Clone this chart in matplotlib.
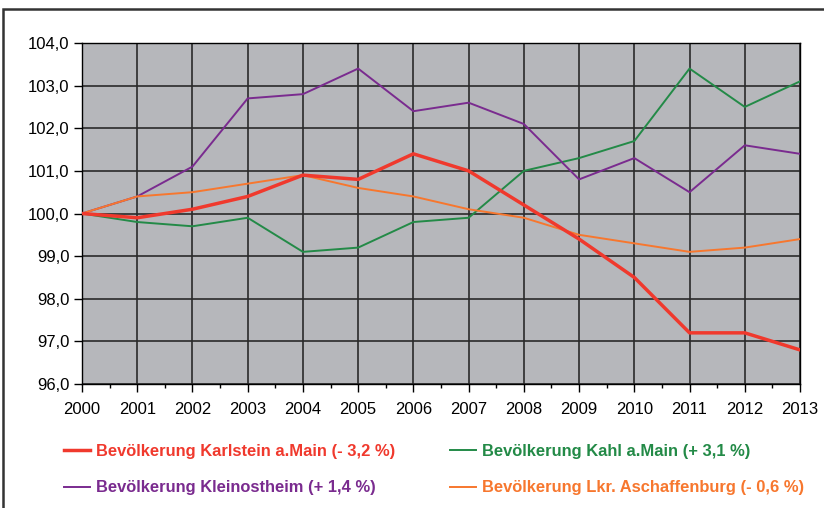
import matplotlib
matplotlib.use("Agg")
import matplotlib.pyplot as plt
from matplotlib.patches import Rectangle
from matplotlib.ticker import MultipleLocator, FuncFormatter

years = list(range(2000, 2014))
karlstein = [100.0, 99.9, 100.1, 100.4, 100.9, 100.8, 101.4, 101.0, 100.2, 99.4, 98.5, 97.2, 97.2, 96.8]
kahl = [100.0, 99.8, 99.7, 99.9, 99.1, 99.2, 99.8, 99.9, 101.0, 101.3, 101.7, 103.4, 102.5, 103.1]
kleinostheim = [100.0, 100.4, 101.1, 102.7, 102.8, 103.4, 102.4, 102.6, 102.1, 100.8, 101.3, 100.5, 101.6, 101.4]
aschaffenburg = [100.0, 100.4, 100.5, 100.7, 100.9, 100.6, 100.4, 100.1, 99.9, 99.5, 99.3, 99.1, 99.2, 99.4]

labels = ["Bevölkerung Karlstein a.Main (- 3,2 %)",
          "Bevölkerung Kahl a.Main (+ 3,1 %)",
          "Bevölkerung Kleinostheim (+ 1,4 %)",
          "Bevölkerung Lkr. Aschaffenburg (- 0,6 %)"]

plt.rcParams['font.family'] = ['Liberation Sans', 'DejaVu Sans']

fig = plt.figure(figsize=(8.24, 5.08), dpi=100)
W, H = 824, 508
ax = fig.add_axes([82 / W, 1 - 384 / H, (800 - 82) / W, (384 - 43) / H])
ax.set_facecolor('#b6b7bb')

red = '#f0392d'
green = '#238a47'
purple = '#7a2b8f'
orange = '#f7772e'

l1, = ax.plot(years, karlstein, color=red, lw=2.5, label=labels[0], zorder=5)
l2, = ax.plot(years, kahl, color=green, lw=1.4, label=labels[1], zorder=4)
l3, = ax.plot(years, kleinostheim, color=purple, lw=1.4, label=labels[2], zorder=4)
l4, = ax.plot(years, aschaffenburg, color=orange, lw=1.4, label=labels[3], zorder=4)

ax.set_xlim(2000, 2013)
ax.set_ylim(96, 104)
ax.xaxis.set_major_locator(MultipleLocator(1))
ax.xaxis.set_minor_locator(MultipleLocator(0.5))
ax.yaxis.set_major_locator(MultipleLocator(1))
ax.yaxis.set_major_formatter(FuncFormatter(lambda v, p: f"{v:.1f}".replace('.', ',')))
ax.grid(True, which='major', color='#2a2a2a', lw=1.2, zorder=1)
ax.set_axisbelow(True)
ax.tick_params(axis='both', which='major', direction='out', length=6, width=1, color='black',
               labelsize=12)
ax.tick_params(axis='y', which='major', pad=3)
ax.tick_params(axis='x', which='major', pad=7)
ax.tick_params(axis='x', which='minor', direction='out', length=3, width=1, color='black')
ax.tick_params(axis='y', which='minor', left=False)
for s in ax.spines.values():
    s.set_color('black')
    s.set_linewidth(1)

leg = ax.legend(handles=[l1, l3, l2, l4], ncol=2, loc='upper left',
                bbox_to_anchor=(49 / W, 1 - 429 / H), bbox_transform=fig.transFigure,
                frameon=False, handlelength=1.6, handletextpad=0.35, columnspacing=3.3,
                labelspacing=1.3, prop={'weight': 'bold', 'size': 11.9},
                labelcolor='linecolor')

fig.patches.append(Rectangle((3 / W, -0.1), 1.2, 1.1 - 9.5 / H, transform=fig.transFigure,
                             fill=False, edgecolor='#333333', lw=1.8, figure=fig))

fig.savefig('out.png', dpi=100)
